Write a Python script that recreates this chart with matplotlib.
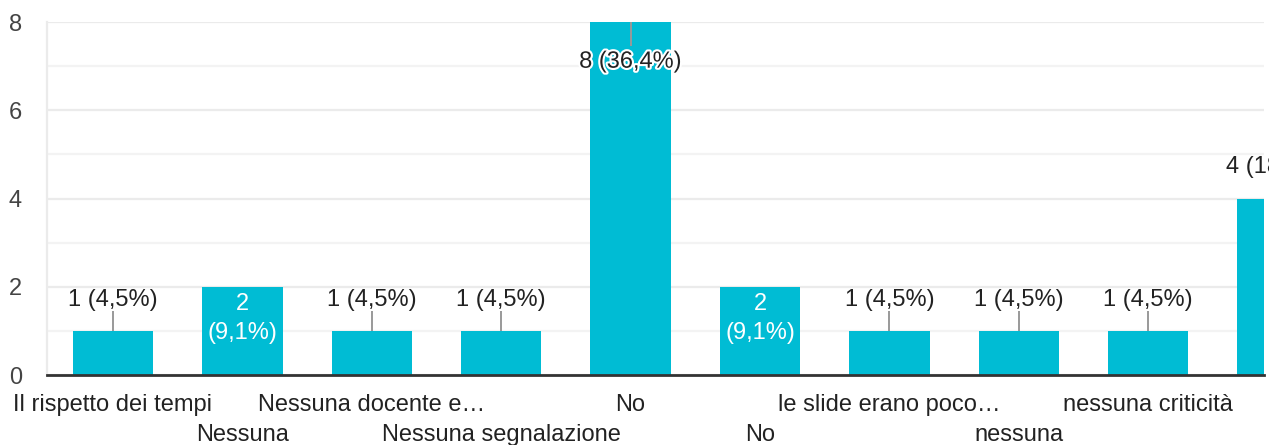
import numpy as np
import matplotlib
matplotlib.use("Agg")
from matplotlib import pyplot as plt
from matplotlib import patheffects as pe

# answers and counts (22 responses); last bar is cut off in the source
answers = ["Il rispetto dei tempi", "Nessuna", "Nessuna docente e…",
           "Nessuna segnalazione", "No", "No", "le slide erano poco…",
           "nessuna", "nessuna criticità", ""]
counts = [1, 2, 1, 1, 8, 2, 1, 1, 1, 4]
percents = ["4,5", "9,1", "4,5", "4,5", "36,4", "9,1", "4,5", "4,5", "4,5", "18,2"]
yticks = [0, 2, 4, 6, 8]

BAR = "#00bcd4"
TXT = "#222222"
FS = 17

plt.rcParams['font.family'] = ['Liberation Sans', 'DejaVu Sans']

fig = plt.figure(figsize=(12.69, 4.45), dpi=100)
ax = fig.add_axes([47 / 1269, 70 / 445, 1217 / 1269, 353 / 445])

x = np.arange(len(counts))
ax.bar(x, counts, width=0.62, color=BAR, zorder=2)

ax.set_yticks(yticks)
ax.set_yticks([1, 3, 5, 7], minor=True)
ax.grid(axis='y', which='major', color='#ebebeb', lw=1.6, zorder=0)
ax.grid(axis='y', which='minor', color='#f3f3f3', lw=1.6, zorder=0)
ax.tick_params(axis='y', which='both', length=0, pad=18, labelsize=FS, labelcolor='#444444')

for s in ['top', 'right']:
    ax.spines[s].set_visible(False)
ax.spines['left'].set_color('#ebebeb')
ax.spines['left'].set_linewidth(1.6)
ax.spines['bottom'].set_color('#333333')
ax.spines['bottom'].set_linewidth(2)
ax.spines['bottom'].set_zorder(3)

ax.set_xticks(x, answers)
ax.tick_params(axis='x', length=0, labelsize=FS, labelcolor=TXT)
for i, t in enumerate(ax.xaxis.get_major_ticks()):
    t.set_pad(13.5 if i % 2 == 0 else 35.5)
    t.label1.set_va('top')

# limits after ticks so set_xticks does not widen them
ax.set_ylim(0, 8)
ax.set_xlim(-0.51, 8.895)

for xi, v, p in zip(x, counts, percents):
    if v == 2:
        ax.text(xi, v - 0.72, f"{v}\n({p}%)", ha='center', va='center',
                color='white', fontsize=FS, linespacing=1.4, zorder=4)
    elif v == 8:
        ax.vlines(xi, v - 0.55, v, color='#999999', lw=1.4, zorder=3)
        ax.text(xi, v - 0.9, f"{v} ({p}%)", ha='center', va='center',
                color=TXT, fontsize=FS, zorder=4,
                path_effects=[pe.withStroke(linewidth=3, foreground='white')])
    else:
        ax.vlines(xi, v, v + 0.45, color='#999999', lw=1.4, zorder=3)
        ax.text(xi, v + 0.71, f"{v} ({p}%)", ha='center', va='center',
                color=TXT, fontsize=FS, zorder=4, clip_on=False)

fig.savefig('out.png', dpi=100)
